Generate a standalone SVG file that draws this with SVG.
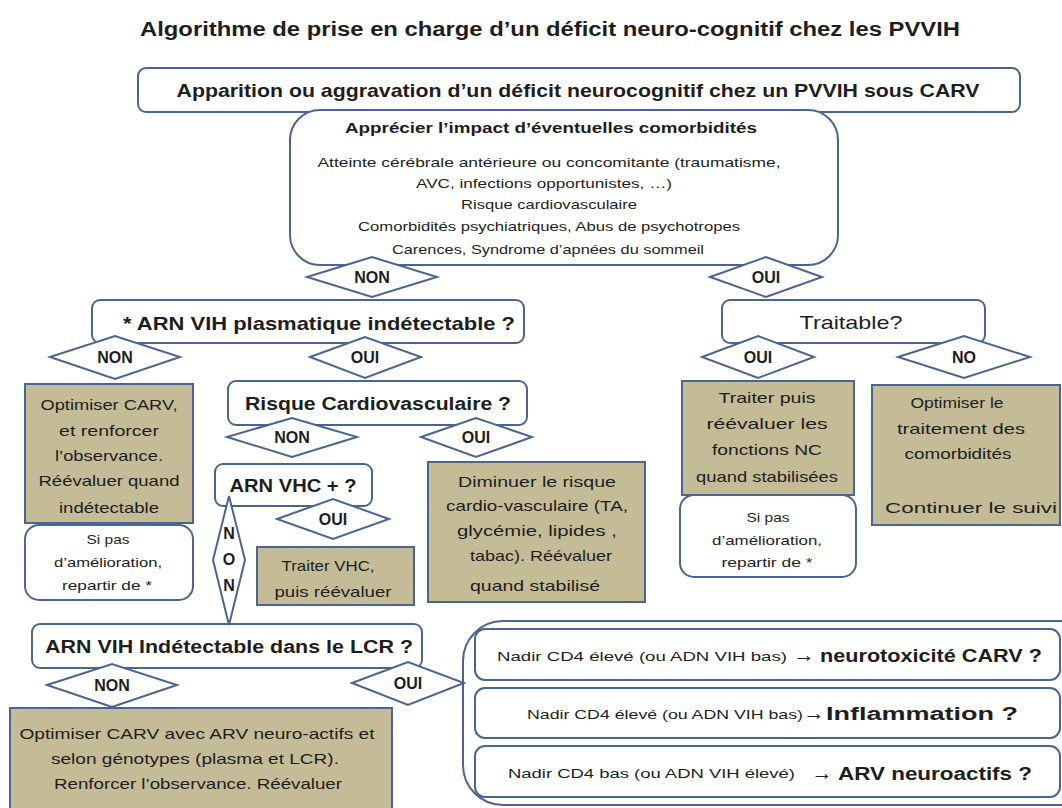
<svg xmlns="http://www.w3.org/2000/svg" width="1062" height="808" viewBox="0 0 1062 808">
<style>
text{font-family:"Liberation Sans",Arial,sans-serif;fill:#1e1e1e;text-anchor:middle}
.b{font-weight:bold}
.s{text-anchor:start}
.box{fill:#fff;stroke:#4a6591;stroke-width:2}
.br{fill:#c4bc97;stroke:#4a6591;stroke-width:2}
.dm{fill:#fff;stroke:#4a6591;stroke-width:2}
.t13{font-size:13px}
.t14{font-size:14px}
.t15{font-size:15px}
.lb{font-size:16px;font-weight:bold}
.t18{font-size:18px}
.t19{font-size:19px}
.ar{font-size:21px}
</style>
<rect width="1062" height="808" fill="#fff"/>
<text x="550" y="36" class="b" style="font-size:20px" textLength="820" lengthAdjust="spacingAndGlyphs">Algorithme de prise en charge d’un déficit neuro-cognitif chez les PVVIH</text>

<g id="n_top">
<rect class="box" x="138" y="68" width="882" height="44" rx="8"/>
<text x="578" y="97" class="b t19" textLength="803" lengthAdjust="spacingAndGlyphs">Apparition ou aggravation d’un déficit neurocognitif chez un PVVIH sous CARV</text>
</g>

<g id="n_comorb">
<rect class="box" x="290" y="110" width="548" height="155" rx="30"/>
<text x="551" y="133" class="b" style="font-size:14.5px" textLength="412" lengthAdjust="spacingAndGlyphs">Apprécier l’impact d’éventuelles comorbidités</text>
<g class="t13">
<text x="549" y="167" textLength="463" lengthAdjust="spacingAndGlyphs">Atteinte cérébrale antérieure ou concomitante (traumatisme,</text>
<text x="544" y="188" textLength="256" lengthAdjust="spacingAndGlyphs">AVC, infections opportunistes, …)</text>
<text x="549" y="209" textLength="176" lengthAdjust="spacingAndGlyphs">Risque  cardiovasculaire</text>
<text x="549" y="231" textLength="382" lengthAdjust="spacingAndGlyphs">Comorbidités psychiatriques, Abus de psychotropes</text>
<text x="548" y="254" textLength="312" lengthAdjust="spacingAndGlyphs">Carences, Syndrome d’apnées  du sommeil</text>
</g>
</g>

<g id="n_arn">
<rect class="box" x="92" y="300" width="432" height="43" rx="8"/>
<text x="319" y="330" class="b t19" textLength="392" lengthAdjust="spacingAndGlyphs">* ARN VIH plasmatique indétectable ?</text>
</g>

<g id="n_traitable">
<rect class="box" x="722" y="300" width="263" height="43" rx="8"/>
<text x="851" y="329" class="t19" textLength="103" lengthAdjust="spacingAndGlyphs">Traitable?</text>
</g>

<g id="n_optcarv">
<rect class="br" x="25" y="384" width="168" height="139"/>
<g class="t15">
<text x="109" y="410" textLength="137" lengthAdjust="spacingAndGlyphs">Optimiser  CARV,</text>
<text x="109" y="436" textLength="100" lengthAdjust="spacingAndGlyphs">et  renforcer</text>
<text x="109" y="461" textLength="108" lengthAdjust="spacingAndGlyphs">l’observance.</text>
<text x="109" y="486" textLength="141" lengthAdjust="spacingAndGlyphs">Réévaluer  quand</text>
<text x="109" y="513" textLength="100" lengthAdjust="spacingAndGlyphs">indétectable</text>
</g>
</g>

<g id="n_sipas1">
<rect class="box" x="25" y="525" width="168" height="75" rx="14"/>
<g class="t13">
<text x="108" y="544" textLength="43" lengthAdjust="spacingAndGlyphs">Si pas</text>
<text x="108" y="567" textLength="108" lengthAdjust="spacingAndGlyphs">d’amélioration,</text>
<text x="107" y="590" textLength="90" lengthAdjust="spacingAndGlyphs">repartir de *</text>
</g>
</g>

<g id="n_risque">
<rect class="box" x="228" y="381" width="299" height="44" rx="8"/>
<text x="378" y="410" class="b t18" textLength="266" lengthAdjust="spacingAndGlyphs">Risque Cardiovasculaire ?</text>
</g>

<g id="n_vhc">
<rect class="box" x="215" y="464" width="157" height="42" rx="8"/>
<text x="293" y="492" class="b t18" textLength="127" lengthAdjust="spacingAndGlyphs">ARN VHC + ?</text>
</g>

<g id="n_traitervhc">
<rect class="br" x="257" y="547" width="157" height="58"/>
<g class="t15">
<text x="328" y="571" textLength="93" lengthAdjust="spacingAndGlyphs">Traiter  VHC,</text>
<text x="333" y="597" textLength="117" lengthAdjust="spacingAndGlyphs">puis réévaluer</text>
</g>
</g>

<g id="n_diminuer">
<rect class="br" x="428" y="462" width="217" height="140"/>
<g class="t15">
<text x="537" y="487" textLength="158" lengthAdjust="spacingAndGlyphs">Diminuer  le risque</text>
<text x="537" y="511" textLength="182" lengthAdjust="spacingAndGlyphs">cardio-vasculaire  (TA,</text>
<text x="537" y="536" textLength="160" lengthAdjust="spacingAndGlyphs">glycémie,  lipides  ,</text>
<text x="541" y="561" textLength="142" lengthAdjust="spacingAndGlyphs">tabac). Réévaluer</text>
<text x="535" y="591" textLength="130" lengthAdjust="spacingAndGlyphs">quand stabilisé</text>
</g>
</g>

<g id="n_traiterpuis">
<rect class="br" x="682" y="381" width="172" height="114"/>
<g class="t15">
<text x="767" y="403" textLength="97" lengthAdjust="spacingAndGlyphs">Traiter  puis</text>
<text x="767" y="429" textLength="121" lengthAdjust="spacingAndGlyphs">réévaluer   les</text>
<text x="767" y="455" textLength="110" lengthAdjust="spacingAndGlyphs">fonctions NC</text>
<text x="767" y="482" textLength="142" lengthAdjust="spacingAndGlyphs">quand stabilisées</text>
</g>
</g>

<g id="n_sipas2">
<rect class="box" x="680" y="495" width="176" height="82" rx="14"/>
<g class="t13">
<text x="768" y="522" textLength="43" lengthAdjust="spacingAndGlyphs">Si pas</text>
<text x="767" y="545" textLength="110" lengthAdjust="spacingAndGlyphs">d’amélioration,</text>
<text x="767" y="567" textLength="91" lengthAdjust="spacingAndGlyphs">repartir de *</text>
</g>
</g>

<g id="n_optcomorb">
<rect class="br" x="872" y="385" width="188" height="140"/>
<g class="t15">
<text x="957" y="408" textLength="93" lengthAdjust="spacingAndGlyphs">Optimiser  le</text>
<text x="961" y="434" textLength="128" lengthAdjust="spacingAndGlyphs">traitement  des</text>
<text x="958" y="459" textLength="107" lengthAdjust="spacingAndGlyphs">comorbidités</text>
<text x="971" y="513" textLength="172" lengthAdjust="spacingAndGlyphs">Continuer  le suivi</text>
</g>
</g>

<g id="n_lcr">
<rect class="box" x="32" y="624" width="390" height="44" rx="8"/>
<text x="229" y="653" class="b t18" textLength="368" lengthAdjust="spacingAndGlyphs">ARN VIH Indétectable dans le LCR  ?</text>
</g>

<g id="n_optneuro">
<rect class="br" x="10" y="708" width="382" height="110"/>
<g class="t15">
<text x="197" y="739" textLength="355" lengthAdjust="spacingAndGlyphs">Optimiser  CARV avec  ARV neuro-actifs  et</text>
<text x="195" y="764" textLength="288" lengthAdjust="spacingAndGlyphs">selon génotypes  (plasma et  LCR).</text>
<text x="198" y="789" textLength="288" lengthAdjust="spacingAndGlyphs">Renforcer l’observance.  Réévaluer</text>
</g>
</g>

<g id="n_nadir">
<rect class="box" x="463" y="621" width="640" height="184" rx="40"/>
<rect class="box" x="475" y="629" width="585" height="51" rx="10"/>
<rect class="box" x="475" y="688" width="585" height="50" rx="10"/>
<rect class="box" x="475" y="746" width="585" height="51" rx="10"/>
<text x="497" y="661" class="s t13" textLength="290" lengthAdjust="spacingAndGlyphs">Nadir CD4 élevé  (ou ADN VIH bas)</text>
<text x="804" y="662" class="ar">→</text>
<text x="820" y="662" class="s b t18" textLength="222" lengthAdjust="spacingAndGlyphs">neurotoxicité CARV ?</text>
<text x="527" y="719" class="s t13" textLength="276" lengthAdjust="spacingAndGlyphs">Nadir CD4 élevé  (ou ADN VIH  bas)</text>
<text x="814" y="720" class="ar">→</text>
<text x="826" y="720" class="s b t18" textLength="192" lengthAdjust="spacingAndGlyphs">Inflammation  ?</text>
<text x="508" y="778" class="s t13" textLength="287" lengthAdjust="spacingAndGlyphs">Nadir CD4 bas (ou ADN VIH élevé)</text>
<text x="822" y="780" class="ar">→</text>
<text x="838" y="780" class="s b t18" textLength="194" lengthAdjust="spacingAndGlyphs">ARV neuroactifs  ?</text>
</g>

<g id="connectors">
<g id="d_non1"><polygon class="dm" points="307,277 372,257 437,277 372,297"/><text x="372" y="283" class="lb">NON</text></g>
<g id="d_oui1"><polygon class="dm" points="710,277 766,257 822,277 766,297"/><text x="766" y="283" class="lb">OUI</text></g>
<g id="d_non2"><polygon class="dm" points="50,357 115,336 180,357 115,379"/><text x="115" y="363" class="lb">NON</text></g>
<g id="d_oui2"><polygon class="dm" points="310,357 365,337 421,357 365,378"/><text x="365" y="363" class="lb">OUI</text></g>
<g id="d_oui3"><polygon class="dm" points="702,357 758,336 814,357 758,378"/><text x="758" y="363" class="lb">OUI</text></g>
<g id="d_no"><polygon class="dm" points="898,357 964,336 1030,357 964,378"/><text x="964" y="363" class="lb">NO</text></g>
<g id="d_non3"><polygon class="dm" points="227,437 292,418 357,437 292,457"/><text x="292" y="443" class="lb">NON</text></g>
<g id="d_oui4"><polygon class="dm" points="421,437 476,418 532,437 476,457"/><text x="476" y="443" class="lb">OUI</text></g>
<g id="d_oui5"><polygon class="dm" points="277,519 333,499 389,519 333,539"/><text x="333" y="525" class="lb">OUI</text></g>
<g id="d_non4"><polygon class="dm" points="229,496 245,560 229,625 213,560"/><text x="229" y="539" class="lb">N</text><text x="229" y="565" class="lb">O</text><text x="229" y="591" class="lb">N</text></g>
<g id="d_non5"><polygon class="dm" points="47,685 112,664 177,685 112,707"/><text x="112" y="691" class="lb">NON</text></g>
<g id="d_oui6"><polygon class="dm" points="352,683 408,662 464,683 408,705"/><text x="408" y="689" class="lb">OUI</text></g>
</g>
</svg>
